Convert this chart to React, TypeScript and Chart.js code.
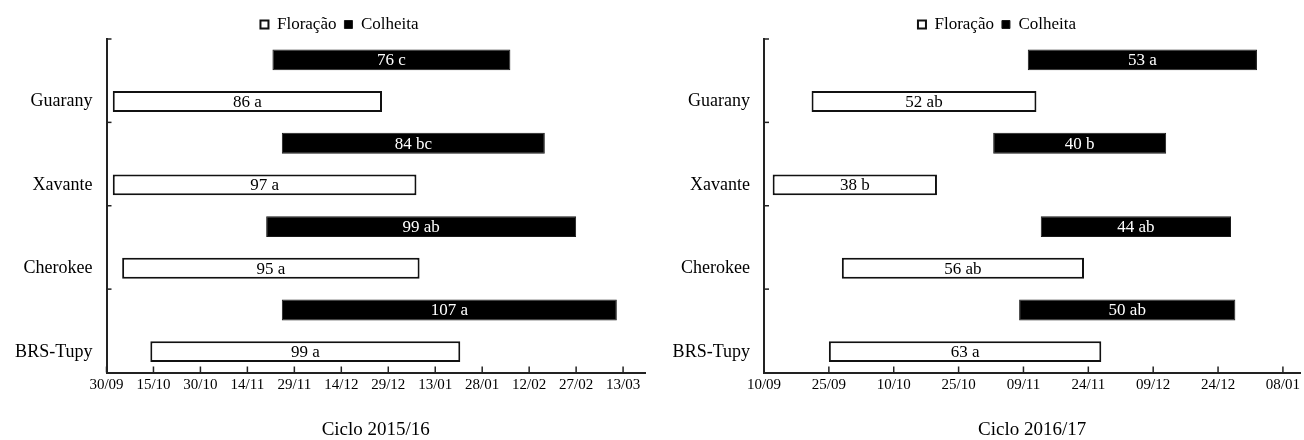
import React, { useEffect, useRef } from "react";
import { Chart, registerables } from "chart.js";

Chart.register(...registerables);

const FONT = "'Liberation Serif', 'Times New Roman', serif";

const cultivars = ["Guarany", "Xavante", "Cherokee", "BRS-Tupy"];
const seriesNames = ["Colheita", "Floração"];

// Ciclo 2015/16 — days counted from 30/09/2015
const ticks2015 = [0, 15, 30, 45, 60, 75, 90, 105, 120, 135, 150, 165];
const tickLabels2015 = ["30/09", "15/10", "30/10", "14/11", "29/11", "14/12", "29/12", "13/01", "28/01", "12/02", "27/02", "13/03"];
const axisMax2015 = 172;
const florStart2015 = [2, 2, 5, 14];
const florEnd2015 = [88, 99, 100, 113];
const florText2015 = ["86 a", "97 a", "95 a", "99 a"];
const colhStart2015 = [53, 56, 51, 56];
const colhEnd2015 = [129, 140, 150, 163];
const colhText2015 = ["76 c", "84 bc", "99 ab", "107 a"];

// Ciclo 2016/17 — days counted from 10/09/2016
const ticks2016 = [0, 15, 30, 45, 60, 75, 90, 105, 120];
const tickLabels2016 = ["10/09", "25/09", "10/10", "25/10", "09/11", "24/11", "09/12", "24/12", "08/01"];
const axisMax2016 = 124;
const florStart2016 = [11, 2, 18, 15];
const florEnd2016 = [63, 40, 74, 78];
const florText2016 = ["52 ab", "38 b", "56 ab", "63 a"];
const colhStart2016 = [61, 53, 64, 59];
const colhEnd2016 = [114, 93, 108, 109];
const colhText2016 = ["53 a", "40 b", "44 ab", "50 ab"];

const decorPlugin = {
  id: "decor",
  afterLayout(chart: any) {
    const shift = chart.options.legendShift || 0;
    const lg = chart.legend;
    if (lg) {
      lg.left += shift;
      lg.right += shift;
      lg.top += 4;
      lg.bottom += 4;
    }
  },
  afterDatasetsDraw(chart: any) {
    const ctx = chart.ctx;
    const xs = chart.scales.x;
    const ys = chart.scales.y;
    const area = chart.chartArea;
    ctx.save();
    ctx.strokeStyle = "#222";
    ctx.lineWidth = 1.5;
    // x-axis tick marks pointing inward
    xs.ticks.forEach((t: any) => {
      const px = xs.getPixelForValue(t.value);
      ctx.beginPath();
      ctx.moveTo(px, area.bottom);
      ctx.lineTo(px, area.bottom - 6);
      ctx.stroke();
    });
    // y-axis category boundary marks
    const n = chart.data.labels.length;
    for (let k = 0; k < n; k++) {
      const py = ys.getPixelForValue(k - 0.5);
      ctx.beginPath();
      ctx.moveTo(area.left, py);
      ctx.lineTo(area.left + 5, py);
      ctx.stroke();
    }
    // bar labels
    ctx.font = `17px ${FONT}`;
    ctx.textAlign = "center";
    ctx.textBaseline = "middle";
    chart.data.datasets.forEach((ds: any, di: number) => {
      const meta = chart.getDatasetMeta(di);
      meta.data.forEach((el: any, i: number) => {
        const p = el.getProps(["x", "base", "y"], true);
        ctx.fillStyle = ds.labelColor;
        ctx.fillText(ds.barLabels[i], (p.x + p.base) / 2, p.y + 1);
      });
    });
    ctx.restore();
  },
};

type PanelProps = {
  left: number;
  width: number;
  padRight: number;
  yWidth: number;
  legendShift: number;
  tickDays: number[];
  tickLabels: string[];
  axisMax: number;
  title: string;
  florStart: number[];
  florEnd: number[];
  florText: string[];
  colhStart: number[];
  colhEnd: number[];
  colhText: string[];
};

function Panel(props: PanelProps) {
  const ref = useRef<HTMLCanvasElement | null>(null);
  useEffect(() => {
    if (!ref.current) return;
    const chart = new Chart(ref.current, {
      type: "bar",
      data: {
        labels: cultivars,
        datasets: [
          {
            label: seriesNames[0],
            data: cultivars.map((_, i) => [props.colhStart[i], props.colhEnd[i]]),
            backgroundColor: "#000",
            borderColor: "#1a1a1a",
            borderWidth: 1,
            borderSkipped: false,
            categoryPercentage: 1,
            barPercentage: 0.5,
            barLabels: props.colhText,
            labelColor: "#fff",
          } as any,
          {
            label: seriesNames[1],
            data: cultivars.map((_, i) => [props.florStart[i], props.florEnd[i]]),
            backgroundColor: "#fff",
            borderColor: "#111",
            borderWidth: 2,
            borderSkipped: false,
            categoryPercentage: 1,
            barPercentage: 0.5,
            barLabels: props.florText,
            labelColor: "#000",
          } as any,
        ],
      },
      options: {
        indexAxis: "y",
        animation: false,
        responsive: false,
        maintainAspectRatio: false,
        legendShift: props.legendShift,
        layout: { padding: { left: 0, right: props.padRight, top: 4, bottom: 0 } },
        plugins: {
          legend: {
            position: "top",
            labels: {
              boxWidth: 8,
              boxHeight: 8,
              padding: 8,
              color: "#000",
              font: { size: 17, family: FONT },
              sort: (a: any, b: any) => b.datasetIndex - a.datasetIndex,
            },
          },
          tooltip: { enabled: false },
        },
        scales: {
          x: {
            type: "linear",
            min: 0,
            max: props.axisMax,
            grid: { display: false, drawTicks: false },
            border: { display: true, color: "#222", width: 2 },
            afterBuildTicks: (s: any) => {
              s.ticks = props.tickDays.map((v) => ({ value: v }));
            },
            afterFit: (s: any) => {
              s.height = 67.5;
            },
            ticks: {
              callback: (_v: any, i: number) => props.tickLabels[i],
              padding: 4,
              color: "#000",
              font: { size: 15, family: FONT },
              maxRotation: 0,
              autoSkip: false,
            },
            title: {
              display: true,
              text: props.title,
              color: "#000",
              font: { size: 19, family: FONT },
              padding: { top: 0, bottom: -1 },
            },
          },
          y: {
            type: "category",
            grid: { display: false, drawTicks: false },
            border: { display: true, color: "#222", width: 2 },
            afterFit: (s: any) => {
              s.width = props.yWidth;
            },
            ticks: {
              padding: 14,
              labelOffset: 21,
              color: "#000",
              font: { size: 18, family: FONT },
              autoSkip: false,
            },
          },
        },
      } as any,
      plugins: [decorPlugin],
    });
    return () => chart.destroy();
  }, []);
  return (
    <canvas
      ref={ref}
      width={props.width}
      height={440}
      style={{ position: "absolute", top: 0, left: props.left, display: "block", width: props.width, height: 440 }}
    />
  );
}

export default function App() {
  return (
    <div style={{ position: "fixed", left: 0, top: 0, width: 1304, height: 440, background: "#fff", overflow: "hidden" }}>
      <Panel
        left={0}
        width={650}
        padRight={5}
        yWidth={106.5}
        legendShift={17}
        tickDays={ticks2015}
        tickLabels={tickLabels2015}
        axisMax={axisMax2015}
        title="Ciclo 2015/16"
        florStart={florStart2015}
        florEnd={florEnd2015}
        florText={florText2015}
        colhStart={colhStart2015}
        colhEnd={colhEnd2015}
        colhText={colhText2015}
      />
      <Panel
        left={650}
        width={654}
        padRight={0}
        yWidth={114}
        legendShift={20}
        tickDays={ticks2016}
        tickLabels={tickLabels2016}
        axisMax={axisMax2016}
        title="Ciclo 2016/17"
        florStart={florStart2016}
        florEnd={florEnd2016}
        florText={florText2016}
        colhStart={colhStart2016}
        colhEnd={colhEnd2016}
        colhText={colhText2016}
      />
    </div>
  );
}
